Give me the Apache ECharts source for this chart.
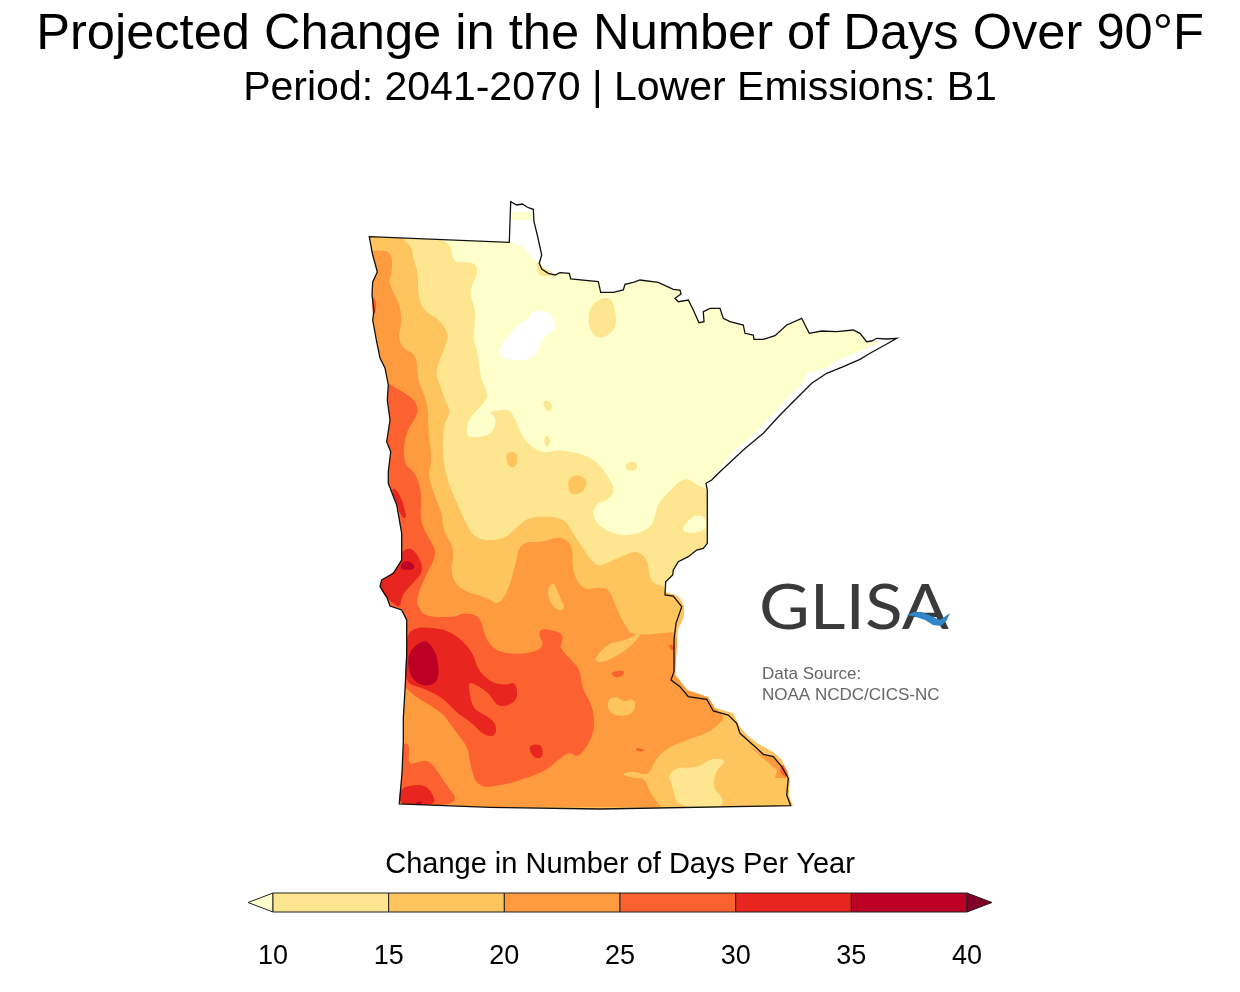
<!DOCTYPE html>
<html>
<head>
<meta charset="utf-8">
<title>Projected Change in the Number of Days Over 90°F</title>
<script src="https://cdn.jsdelivr.net/npm/echarts@6/dist/echarts.min.js"></script>
<style>
  html, body { margin: 0; background: #fff; }
  #chart { width: 1240px; height: 992px; }
</style>
</head>
<body>
<div id="chart"></div>
<script>
// colour classes, days per year (below 5 is left white)
const classColors = ['#ffffff', '#ffffcc', '#fee691', '#fec55f', '#fe9b3e', '#fc6230', '#e8251f', '#bd0026', '#800026'];
const classValues = [2, 7, 12, 17, 22, 27, 32, 37, 42];

// state border in map units
const edgeNorth = [[369.3,236.7],[509.3,242.3],[510.7,201.7],[516.7,205],[522.3,204],[528.3,207.7],[533.3,209.3],[534,221.7],[537.3,235],[541.7,255],[539.3,263.3],[541.7,269],[548.3,273.3],[555,275],[560,272.7],[569.3,273.3],[570.7,279],[598.3,281.7],[600.7,292.3],[613.3,292.3],[623.3,290],[625,284.3],[633.3,282.3],[640,280],[658.3,282.3],[673.3,289.3],[680,290],[681,294],[675,298.3],[678.3,301.7],[688.3,300],[693.3,310],[699,322.7],[704,321.7],[703.3,311.7],[710,308.3],[720,308.3],[723.3,318.3],[730,321.7],[743.3,325],[745,333.3],[753.3,335],[754,339.3],[763.3,339.3],[775,335.7],[786.7,325],[801.7,318.3],[805,325],[809.3,333.3],[821.7,331],[836.7,331.7],[853.3,330],[860,333.3],[866.7,341.7],[871.7,341],[876.7,338.3],[886.7,339],[896.7,338.3]];
const edgeShore = [[885,345],[870,353.3],[860,359.3],[843.3,366.7],[826.7,373.3],[811.7,383.3],[796.7,398.3],[780,415],[763.3,433.3],[743.3,450],[720,471.7],[711.7,480],[706,483.3]];
const edgeEastUpper = [[707.3,543.3],[703.3,548.3],[696.7,550],[688.3,556.7],[678.3,561.7],[673.3,570],[672.7,575],[665.7,581.7],[665,595]];
const edgeEastLower = [[673.3,596],[681.7,606.7],[676,623.3],[674,640],[674,658.3],[674,671.7],[671,680],[680,686.7],[688.3,696.7],[706.7,699.3],[713.3,711],[728.3,715],[736.7,723.3],[740,733.3],[756.7,748.3],[763.3,754.3],[773.3,756.7],[781.7,766.7],[788.3,778.3],[786.7,795],[790.7,805.7]];
const edgeSouth = [[600,809],[490,807.3],[399.3,804]];
const edgeWestLow = [[402,773],[403.3,742],[403.3,718],[405,690],[406.7,655],[406.7,620]];
const edgeWestMid = [[401.7,610],[390,606],[386.7,596.7],[380,586.7],[381.7,580],[393.3,573.3],[401.7,560],[401.7,533.3],[396.7,505],[388.3,483.3],[388.3,471.7],[390.7,451.7],[386.7,441.7],[390,420],[387.3,400],[388.3,385]];
const edgeWestHigh = [[385,368],[380,358],[376.7,342],[372.7,320],[374,310],[372,295],[372.7,282],[377.3,272],[376,267],[372.7,255],[371.7,250]];
const westSide = [...edgeSouth, ...edgeWestLow, ...edgeWestMid, ...edgeWestHigh];

// river fringe just past the border in the south-east
const fringeMiddle = [[665,592],[678,595],[685,607],[683,620],[678,628],[677,640],[676,660],[675,675]];
const fringeLower = [[687,690],[708,697],[715,708],[733,713],[740,727],[747,735],[757,743],[773,752],[782,760],[790,778],[789,795],[793,806]];

// below 10: whole state less the lake shore strip and the north-west angle
const fillBase = [[369.3,236.7],[509.3,242.3],[523,247],[531,257],[538,262],[541.7,269],[548.3,273.3],[555,275],[560,272.7],[569.3,273.3],[570.7,279],[598.3,281.7],[600.7,292.3],[613.3,292.3],[623.3,290],[625,284.3],[633.3,282.3],[640,280],[658.3,282.3],[673.3,289.3],[680,290],[681,294],[675,298.3],[678.3,301.7],[688.3,300],[693.3,310],[699,322.7],[704,321.7],[703.3,311.7],[710,308.3],[720,308.3],[723.3,318.3],[730,321.7],[743.3,325],[745,333.3],[753.3,335],[754,339.3],[763.3,339.3],[775,335.7],[786.7,325],[801.7,318.3],[805,325],[809.3,333.3],[821.7,331],[836.7,331.7],[853.3,330],[860,333.3],[866.7,341.7],[871.7,341],[880,341.7],[863,350],[843,358],[833,362],[830,367],[807,373],[803,383],[785,400],[777,410],[763,425],[755,433],[733,452],[713,477],[706,483.3],[707.3,490],...edgeEastUpper,...edgeEastLower,...westSide];
const fillAngle = [[512,212],[532,212],[533,220],[512,220]];
const holeLow = [[497,350],[517,325],[530,318],[532,311],[548,310],[557,325],[552,332],[542,338],[535,360],[503,360]];

// 10 to 15
const contour10 = [[423,238.8],[450,240.5],[453,262],[465,262],[475,263],[478,273],[472,285],[470,295],[475,308],[475,322],[473,338],[478,353],[480,375],[487,392],[487,400],[470,417],[467,427],[467,438],[488,436],[495,428],[496,417],[488,412],[507,409],[512,413],[517,423],[523,438],[533,448],[545,453],[557,450],[573,452],[590,457],[600,465],[610,480],[615,490],[608,500],[597,503],[592,515],[600,527],[617,535],[633,535],[650,528],[655,517],[658,503],[668,493],[678,482],[688,478],[697,485],[705,488],[708,490],[708,543]];
const patches10 = [
  [[605,297],[613,300],[617,322],[612,333],[600,339],[590,332],[588,315],[593,303]],
  [[542,402],[548,400],[553,407],[548,413]],
  [[545,437],[548,435],[551,442],[547,448],[544,442]],
  [[625,465],[632,461],[637,463],[637,470],[627,471]],
  [[536,260],[542,267],[557,275],[538,277]]
];
const wedgeLow = [[680,533],[688,520],[695,515],[706,517],[706,532]];
const patchSouth10 = [[668,775],[678,767],[697,768],[712,758],[727,760],[715,772],[713,788],[723,798],[722,808],[678,808],[672,785]];

// 15 to 20
const contour15 = [[403,238],[412,248],[413,258],[418,272],[418,295],[423,310],[440,320],[448,333],[447,342],[435,372],[440,385],[445,400],[451,412],[443,425],[443,463],[450,487],[463,517],[475,540],[503,540],[517,527],[530,516],[563,517],[573,533],[595,567],[607,563],[620,557],[637,550],[648,560],[650,582],[665,587]];
const patches15 = [
  [[506,452],[517,452],[518,463],[513,468],[507,465]],
  [[567,480],[577,474],[588,480],[583,493],[570,495]]
];

// 20 to 25
const contour20 = [[372.7,251.7],[377,250],[392,252],[392,273],[388,282],[400,305],[402,323],[398,335],[402,348],[417,355],[417,378],[428,404],[428,430],[432,460],[428,475],[435,497],[442,513],[443,530],[455,550],[450,573],[460,590],[488,598],[498,605],[507,593],[515,567],[520,542],[543,542],[560,536],[573,545],[572,570],[582,590],[600,587],[610,590],[617,610],[625,625],[633,636],[673,632]];
const contour20South = [[723,720],[710,732],[687,740],[667,748],[655,760],[650,772],[645,775],[633,771],[620,774],[633,778],[645,778],[650,793],[662,808]];
const strips15 = [
  [[553,580],[546,593],[555,610],[566,610],[560,597]],
  [[593,660],[608,643],[627,640],[640,632],[640,636],[627,650],[603,663]],
  [[608,698],[618,697],[623,702],[635,698],[635,712],[622,717],[608,712]]
];

// 25 to 30
const contour25 = [[388,383],[403,392],[415,400],[419,413],[405,433],[403,463],[415,472],[422,493],[420,522],[430,540],[437,554],[425,577],[417,597],[417,605],[425,617],[457,617],[460,613],[480,615],[485,638],[498,653],[527,654],[545,647],[538,633],[543,628],[563,633],[562,643],[559,647],[573,662],[580,670],[582,688],[592,705],[595,725],[590,742],[578,758],[570,752],[560,758],[547,770],[527,778],[503,785],[478,788],[470,765],[468,747],[453,728],[442,712],[417,698],[405,687]];
const patches25 = [
  [[403,742],[410,745],[408,765],[418,762],[430,760],[443,780],[462,806],[399.3,804],[402,773]],
  [[372,296],[376,300],[376,312],[373,316],[372,305]],
  [[610,672],[625,670],[623,676],[615,678]],
  [[635,747],[647,750],[637,752]],
  [[668,645],[675,645],[673,652]],
  [[782,762],[789,775],[785,778],[779,770]]
];
const stripSouthEast = [[748,745],[763,755],[773,757],[782,767],[786,778],[775,778],[777,770],[765,760]];

// 30 to 35
const patches30 = [
  [[408,627],[442,628],[460,638],[473,653],[478,670],[492,683],[507,685],[513,682],[517,687],[517,700],[507,706],[497,706],[488,692],[473,683],[468,683],[472,708],[485,715],[496,723],[496,736],[485,736],[472,723],[457,713],[443,698],[423,688],[405,683],[406,655]],
  [[528,745],[542,744],[543,758],[533,758]],
  [[391,488],[397,490],[402,500],[407,518],[402,518],[397,505]],
  [[402,550],[413,548],[422,563],[422,573],[413,583],[402,595],[400,608],[393,603],[385,597],[380,587],[382,580],[393,573],[401,563]],
  [[400,787],[423,784],[432,792],[436,805],[412,804],[399,804]]
];

// 35 to 40
const patches35 = [
  [[407,655],[418,643],[428,640],[438,657],[439,682],[423,687],[410,677]],
  [[400,565],[407,560],[415,565],[413,570],[402,570]],
  [[413,803],[422,801],[422,804]]
];

const outline = [...edgeNorth, ...edgeShore, [707.3,490], ...edgeEastUpper, ...edgeEastLower, ...westSide];

// rounds the corners of a traced contour, the ends of an open one stay put
function soften(pts, closed) {
  let out = pts;
  for (let pass = 0; pass < 2; pass++) {
    let next = closed ? [] : [out[0]];
    let n = out.length;
    for (let i = 0; i < (closed ? n : n - 1); i++) {
      let a = out[i], b = out[(i + 1) % n];
      next.push([a[0] * 0.75 + b[0] * 0.25, a[1] * 0.75 + b[1] * 0.25]);
      next.push([a[0] * 0.25 + b[0] * 0.75, a[1] * 0.25 + b[1] * 0.75]);
    }
    if (!closed) next.push(out[n - 1]);
    out = next;
  }
  return out;
}
function softenAll(rings) {
  return rings.map(function (r) { return soften(r, true); });
}

// painted in order, each layer over the last: [name, value, rings]
const layers = [
  ['base', classValues[1], [fillBase, fillAngle]],
  ['holeLow', classValues[0], [soften(holeLow, true)]],
  ['above10', classValues[2], [[...soften(contour10), ...edgeEastUpper, ...edgeEastLower, ...westSide, [369.3,236.7]], ...softenAll(patches10)]],
  ['wedgeLow', classValues[1], [soften(wedgeLow, true)]],
  ['above15', classValues[3], [[...soften(contour15), ...soften(fringeMiddle), ...fringeLower, ...westSide, [369.3,236.7]], ...softenAll(patches15)]],
  ['above20', classValues[4], [[...soften(contour20), ...fringeMiddle.slice(5), ...fringeLower.slice(0, 3), [723,716], ...soften(contour20South), ...edgeSouth.slice(1), ...edgeWestLow, ...edgeWestMid, ...edgeWestHigh]]],
  ['strips15', classValues[3], softenAll(strips15)],
  ['patchSouth10', classValues[2], [soften(patchSouth10, true)]],
  ['stripSouthEast', classValues[4], [stripSouthEast]],
  ['above25', classValues[5], [[...soften(contour25), ...edgeWestLow.slice(3), ...edgeWestMid], ...softenAll(patches25)]],
  ['above30', classValues[6], softenAll(patches30)],
  ['above35', classValues[7], softenAll(patches35)]
];

// colour bar
const barLow = [8.92, 10, 15, 20, 25, 30, 35, 40];
const barHigh = [10, 15, 20, 25, 30, 35, 40, 41.08];
const barClass = [1, 2, 3, 4, 5, 6, 7, 8];

function toRing(ring) {
  return ring.map(function (p) { return [p[0], -p[1]]; });
}

const mapFeatures = layers.map(function (l) {
  return {
    type: 'Feature',
    properties: { name: l[0] },
    geometry: { type: 'MultiPolygon', coordinates: l[2].map(function (r) { return [toRing(r)]; }) }
  };
});
mapFeatures.push({
  type: 'Feature',
  properties: { name: 'Minnesota' },
  geometry: { type: 'MultiPolygon', coordinates: [[toRing(outline)]] }
});
echarts.registerMap('minnesota', { type: 'FeatureCollection', features: mapFeatures });

let chart = echarts.init(document.getElementById('chart'), null, { renderer: 'canvas' });

const mapData = layers.map(function (l) {
  return { name: l[0], value: l[1], itemStyle: { areaColor: classColors[classValues.indexOf(l[1])] } };
});
mapData.push({ name: 'Minnesota', value: 0, itemStyle: { areaColor: 'rgba(0,0,0,0)', borderColor: '#111', borderWidth: 1.3 } });

const barData = barLow.map(function (v, i) { return [v, barHigh[i], barClass[i]]; });

chart.setOption({
  animation: false,
  backgroundColor: '#fff',
  textStyle: { fontFamily: '"Liberation Sans", Arial, sans-serif' },
  title: [
    { text: 'Projected Change in the Number of Days Over 90°F', left: 'center', top: 10, padding: 0,
      textStyle: { fontSize: 50.6, fontWeight: 'normal', color: '#000' } },
    { text: 'Period: 2041-2070 | Lower Emissions: B1', left: 'center', top: 68, padding: 0,
      textStyle: { fontSize: 41, fontWeight: 'normal', color: '#000' } },
    { text: 'Change in Number of Days Per Year', left: 'center', top: 850, padding: 0,
      textStyle: { fontSize: 29, fontWeight: 'normal', color: '#000' } }
  ],
  grid: { left: 273, right: 273, top: 893, height: 19 },
  xAxis: {
    type: 'value', min: 10, max: 40, interval: 5,
    axisLine: { show: false }, axisTick: { show: false }, splitLine: { show: false },
    axisLabel: { color: '#000', fontSize: 27, margin: 31 }
  },
  yAxis: { type: 'value', min: 0, max: 1, show: false },
  series: [
    {
      type: 'map', map: 'minnesota', silent: true, aspectScale: 1,
      boundingCoords: [[0, 0], [1240, -992]],
      layoutCenter: [620, 496], layoutSize: 1240,
      selectedMode: false,
      label: { show: false },
      emphasis: { disabled: true },
      itemStyle: { borderWidth: 0, borderColor: 'rgba(0,0,0,0)' },
      data: mapData
    },
    {
      type: 'custom', coordinateSystem: 'cartesian2d', clip: false, silent: true,
      data: barData,
      renderItem: function (params, api) {
        let a = api.coord([api.value(0), 0]);
        let b = api.coord([api.value(1), 1]);
        let style = { fill: classColors[api.value(2)], stroke: '#222', lineWidth: 1 };
        if (api.value(0) < 10) {
          return { type: 'polygon', shape: { points: [[b[0], b[1]], [b[0], a[1]], [a[0], (a[1] + b[1]) / 2]] }, style: style };
        }
        if (api.value(1) > 40) {
          return { type: 'polygon', shape: { points: [[a[0], b[1]], [a[0], a[1]], [b[0], (a[1] + b[1]) / 2]] }, style: style };
        }
        return { type: 'rect', shape: { x: a[0], y: b[1], width: b[0] - a[0], height: a[1] - b[1] }, style: style };
      }
    }
  ],
  graphic: [
    { type: 'text', x: 759, y: 609, scaleX: 1.14, style: { text: 'GLISA', font: '400 61px Lato', fill: '#3a3a3c', textVerticalAlign: 'middle' } },
    { type: 'polygon', shape: { points: [[907,615],[914,612],[922,612],[931,616],[940,620],[950,613],[947,620],[941,626],[933,625],[925,620],[916,617]] },
      style: { fill: '#2f86c8' } },
    { type: 'text', x: 762, y: 674.5, style: { text: 'Data Source:', font: '17px "Liberation Sans"', fill: '#666', textVerticalAlign: 'middle' } },
    { type: 'text', x: 762, y: 695.5, style: { text: 'NOAA NCDC/CICS-NC', font: '17px "Liberation Sans"', fill: '#666', textVerticalAlign: 'middle' } }
  ]
});
</script>
</body>
</html>
